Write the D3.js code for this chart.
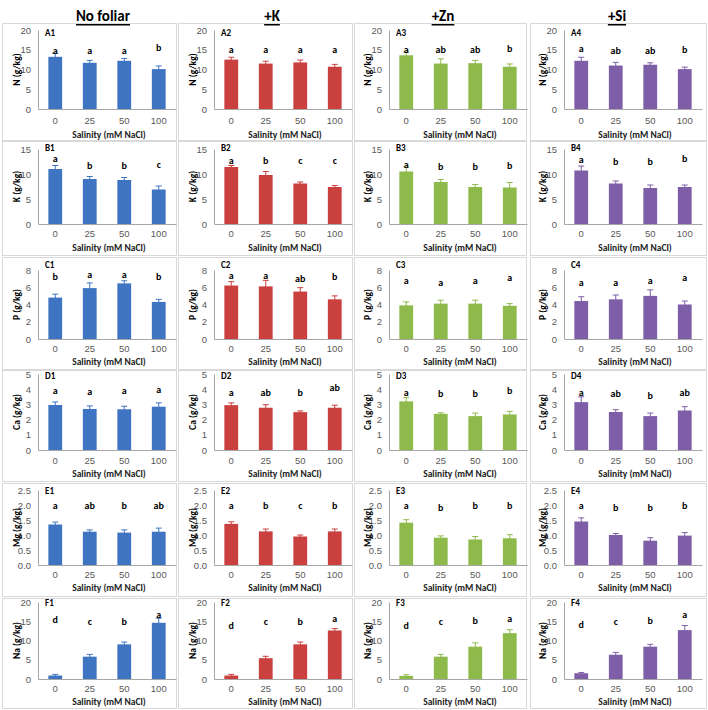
<!DOCTYPE html>
<html><head><meta charset="utf-8">
<script src="https://cdn.jsdelivr.net/npm/d3@7"></script>
<style>
html,body{margin:0;padding:0;background:#fff;}
svg{display:block;font-family:Carlito,Calibri,Lato,"Open Sans",sans-serif;}
</style></head>
<body><svg id="c" width="708" height="710"></svg>
<script>
// ---------- DATA ----------
const salinity = ["0", "25", "50", "100"];
const treatments = ["No foliar", "+K", "+Zn", "+Si"];
const nutrientLabels = ["N (g/kg)", "K (g/kg)", "P (g/kg)", "Ca (g/kg)", "Mg (g/kg)", "Na (g/kg)"];
const panelLetters = ["A", "B", "C", "D", "E", "F"];

const N_ticks = [0, 5, 10, 15, 20];
const K_ticks = [0, 5, 10, 15];
const P_ticks = [0, 2, 4, 6, 8];
const Ca_ticks = [0, 1, 2, 3, 4, 5];
const Mg_ticks = [0, 0.5, 1.0, 1.5, 2.0, 2.5];
const Na_ticks = [0, 5, 10, 15, 20];

// means per treatment (No foliar, +K, +Zn, +Si) x salinity (0,25,50,100)
const N_mean = [[13.2, 11.7, 12.2, 10.1], [12.5, 11.5, 11.8, 10.7], [13.6, 11.5, 11.6, 10.7], [12.2, 11.0, 11.2, 10.1]];
const N_err  = [[0.9, 0.6, 0.6, 0.8], [0.6, 0.6, 0.6, 0.6], [0.8, 1.2, 0.7, 0.7], [0.9, 0.8, 0.5, 0.5]];
const N_sig  = [["a","a","a","b"], ["a","a","a","a"], ["a","ab","ab","b"], ["a","ab","ab","b"]];
const N_sigAt = [[14.7, 14.7, 14.7, 15.5], [15.0, 15.0, 15.0, 15.0], [15.0, 15.0, 15.0, 15.4], [15.2, 14.7, 14.8, 15.0]];

const K_mean = [[11.0, 9.0, 8.8, 6.9], [11.4, 9.8, 8.1, 7.4], [10.5, 8.4, 7.4, 7.3], [10.7, 8.1, 7.2, 7.4]];
const K_err  = [[0.7, 0.5, 0.5, 0.7], [0.3, 0.7, 0.3, 0.3], [0.9, 0.5, 0.5, 1.0], [0.9, 0.5, 0.6, 0.4]];
const K_sig  = [["a","b","b","c"], ["a","b","c","c"], ["a","b","b","b"], ["a","b","b","b"]];
const K_sigAt = [[13.1, 11.7, 11.8, 12.0], [12.7, 12.7, 12.7, 12.7], [12.0, 11.5, 11.5, 11.8], [12.9, 12.5, 12.5, 13.1]];

const P_mean = [[4.8, 5.9, 6.45, 4.3], [6.2, 6.1, 5.5, 4.6], [3.9, 4.1, 4.1, 3.85], [4.4, 4.6, 5.0, 4.0]];
const P_err  = [[0.4, 0.6, 0.3, 0.3], [0.45, 0.7, 0.45, 0.4], [0.4, 0.4, 0.4, 0.25], [0.5, 0.5, 0.7, 0.4]];
const P_sig  = [["b","a","a","b"], ["a","a","ab","b"], ["a","a","a","a"], ["a","a","a","a"]];
const P_sigAt = [[7.2, 7.5, 7.5, 7.2], [7.4, 7.4, 7.0, 7.3], [6.75, 6.6, 6.8, 7.1], [6.5, 6.6, 6.8, 7.1]];

const Ca_mean = [[2.96, 2.7, 2.68, 2.85], [2.95, 2.78, 2.49, 2.78], [3.2, 2.38, 2.23, 2.34], [3.15, 2.5, 2.23, 2.6]];
const Ca_err  = [[0.2, 0.2, 0.2, 0.25], [0.15, 0.2, 0.08, 0.17], [0.25, 0.07, 0.2, 0.2], [0.35, 0.15, 0.2, 0.25]];
const Ca_sig  = [["a","a","a","a"], ["a","ab","b","ab"], ["a","b","b","b"], ["a","ab","b","ab"]];
const Ca_sigAt = [[3.9, 3.85, 3.9, 4.0], [3.77, 3.8, 3.77, 4.1], [3.77, 3.7, 3.7, 3.9], [3.8, 3.75, 3.6, 3.8]];

const Mg_mean = [[1.35, 1.11, 1.08, 1.11], [1.37, 1.12, 0.95, 1.12], [1.41, 0.91, 0.85, 0.89], [1.45, 1.0, 0.81, 0.98]];
const Mg_err  = [[0.08, 0.06, 0.09, 0.12], [0.07, 0.08, 0.05, 0.08], [0.1, 0.06, 0.1, 0.12], [0.12, 0.05, 0.1, 0.1]];
const Mg_sig  = [["a","ab","b","ab"], ["a","b","c","b"], ["a","b","b","b"], ["a","b","b","b"]];
const Mg_sigAt = [[2.0, 1.97, 1.97, 2.0], [2.0, 2.0, 2.0, 2.0], [2.0, 1.92, 1.97, 2.0], [2.0, 1.92, 1.92, 1.97]];

const Na_mean = [[0.9, 5.8, 9.0, 14.6], [0.9, 5.4, 9.0, 12.6], [0.8, 5.8, 8.4, 11.9], [1.5, 6.3, 8.4, 12.7]];
const Na_err  = [[0.3, 0.6, 0.6, 1.2], [0.3, 0.5, 0.6, 0.5], [0.3, 0.6, 1.0, 0.9], [0.2, 0.6, 0.6, 1.2]];
const Na_sig  = [["d","c","b","a"], ["d","c","b","a"], ["d","c","b","a"], ["d","c","b","a"]];
const Na_sigAt = [[15.5, 15.0, 15.0, 16.7], [14.0, 15.0, 15.0, 15.7], [14.0, 15.0, 15.2, 15.7], [14.1, 15.0, 15.3, 16.7]];

// ---------- BUILD ----------
const nutrients = [
  {ticks: N_ticks, mean: N_mean, err: N_err, sig: N_sig, sigAt: N_sigAt, fmt: d3.format("d")},
  {ticks: K_ticks, mean: K_mean, err: K_err, sig: K_sig, sigAt: K_sigAt, fmt: d3.format("d")},
  {ticks: P_ticks, mean: P_mean, err: P_err, sig: P_sig, sigAt: P_sigAt, fmt: d3.format("d")},
  {ticks: Ca_ticks, mean: Ca_mean, err: Ca_err, sig: Ca_sig, sigAt: Ca_sigAt, fmt: d3.format("d")},
  {ticks: Mg_ticks, mean: Mg_mean, err: Mg_err, sig: Mg_sig, sigAt: Mg_sigAt, fmt: d3.format(".1f")},
  {ticks: Na_ticks, mean: Na_mean, err: Na_err, sig: Na_sig, sigAt: Na_sigAt, fmt: d3.format("d")}
];

const colors = ["#3f74c2", "#c9403f", "#8dba4a", "#7f5ea8"];

// layout
const colAxisX = [38, 214, 389, 564];
const plotW = 138;
const panelX = [[2, 176], [178, 352], [354, 526], [530, 706]];
const rowL = [
  {top: 30, bot: 109, xlab: 123, sal: 135, pTop: 23, pBot: 140, idY: 32},
  {top: 149, bot: 224, xlab: 236, sal: 248, pTop: 141, pBot: 255, idY: 147},
  {top: 270, bot: 339, xlab: 351, sal: 362, pTop: 257, pBot: 369, idY: 264},
  {top: 374, bot: 450, xlab: 463, sal: 474, pTop: 370, pBot: 481, idY: 375},
  {top: 490, bot: 565, xlab: 577, sal: 588, pTop: 483, pBot: 596, idY: 490},
  {top: 602, bot: 679, xlab: 691, sal: 702, pTop: 598, pBot: 708, idY: 602}
];
const titleX = [103, 272, 443, 617];

const svg = d3.select("#c");

// column titles
treatments.forEach((t, ci) => {
  svg.append("text")
    .attr("x", titleX[ci]).attr("y", 16)
    .attr("text-anchor", "middle").attr("dominant-baseline", "central")
    .attr("font-size", 15).attr("font-weight", "bold")
    .attr("text-decoration", "underline")
    .attr("fill", "#000")
    .text(t);
});

nutrients.forEach((nu, ri) => {
  const L = rowL[ri];
  treatments.forEach((t, ci) => {
    const ax = colAxisX[ci];
    const g = svg.append("g");
    // panel frame
    g.append("rect")
      .attr("x", panelX[ci][0] + 0.5).attr("y", L.pTop + 0.5)
      .attr("width", panelX[ci][1] - panelX[ci][0]).attr("height", L.pBot - L.pTop)
      .attr("fill", "none").attr("stroke", "#d9d9d9").attr("stroke-width", 1);

    const x = d3.scaleBand().domain(salinity).range([ax, ax + plotW])
      .paddingInner(0.6).paddingOuter(0.3);
    const y = d3.scaleLinear().domain([0, d3.max(nu.ticks)]).range([L.bot, L.top]);

    // y axis
    const ya = g.append("g").attr("transform", `translate(${ax},0)`)
      .call(d3.axisLeft(y).tickValues(nu.ticks).tickFormat(nu.fmt).tickSize(0).tickPadding(7));
    ya.select(".domain").attr("stroke", "#a6a6a6");
    ya.selectAll("text").attr("font-size", 9.5).attr("fill", "#595959").attr("font-family", null);

    // x axis
    const xa = g.append("g").attr("transform", `translate(0,${L.bot})`)
      .call(d3.axisBottom(x).tickSize(0).tickPadding(L.xlab - L.bot - 6));
    xa.select(".domain").attr("stroke", "#a6a6a6");
    xa.selectAll("text").attr("font-size", 9.5).attr("fill", "#595959").attr("font-family", null);

    // bars
    const rows = salinity.map((s, i) => ({s, m: nu.mean[ci][i], e: nu.err[ci][i], sig: nu.sig[ci][i], at: nu.sigAt[ci][i]}));
    g.selectAll("rect.bar").data(rows).join("rect").attr("class", "bar")
      .attr("x", d => x(d.s)).attr("width", x.bandwidth())
      .attr("y", d => y(d.m)).attr("height", d => y(0) - y(d.m))
      .attr("fill", colors[ci]);

    // error bars
    const cx = d => x(d.s) + x.bandwidth() / 2;
    g.selectAll("line.eb").data(rows).join("line").attr("class", "eb")
      .attr("x1", cx).attr("x2", cx)
      .attr("y1", d => y(d.m - d.e)).attr("y2", d => y(d.m + d.e))
      .attr("stroke", colors[ci]).attr("stroke-width", 1);
    g.selectAll("line.cap").data(rows).join("line").attr("class", "cap")
      .attr("x1", d => cx(d) - 3).attr("x2", d => cx(d) + 3)
      .attr("y1", d => y(d.m + d.e)).attr("y2", d => y(d.m + d.e))
      .attr("stroke", colors[ci]).attr("stroke-width", 1);

    // significance letters
    g.selectAll("text.sig").data(rows).join("text").attr("class", "sig")
      .attr("x", cx).attr("y", d => y(d.at))
      .attr("text-anchor", "middle").attr("dominant-baseline", "central")
      .attr("font-size", 10).attr("font-weight", "bold").attr("fill", "#000")
      .text(d => d.sig);

    // panel id
    g.append("text")
      .attr("x", ax + 7).attr("y", L.idY)
      .attr("dominant-baseline", "central")
      .attr("font-size", 9).attr("font-weight", "bold").attr("fill", "#000")
      .text(panelLetters[ri] + (ci + 1));

    // y label
    g.append("text")
      .attr("transform", `translate(${ax - 21},${(L.top + L.bot) / 2}) rotate(-90)`)
      .attr("text-anchor", "middle").attr("dominant-baseline", "central")
      .attr("font-size", 9.5).attr("font-weight", "bold").attr("fill", "#000")
      .text(nutrientLabels[ri]);

    // x label
    g.append("text")
      .attr("x", ax + plotW / 2 + 2).attr("y", L.sal)
      .attr("text-anchor", "middle").attr("dominant-baseline", "central")
      .attr("font-size", 9.5).attr("font-weight", "bold").attr("fill", "#222")
      .text("Salinity (mM NaCl)");
  });
});
</script>
</body></html>
